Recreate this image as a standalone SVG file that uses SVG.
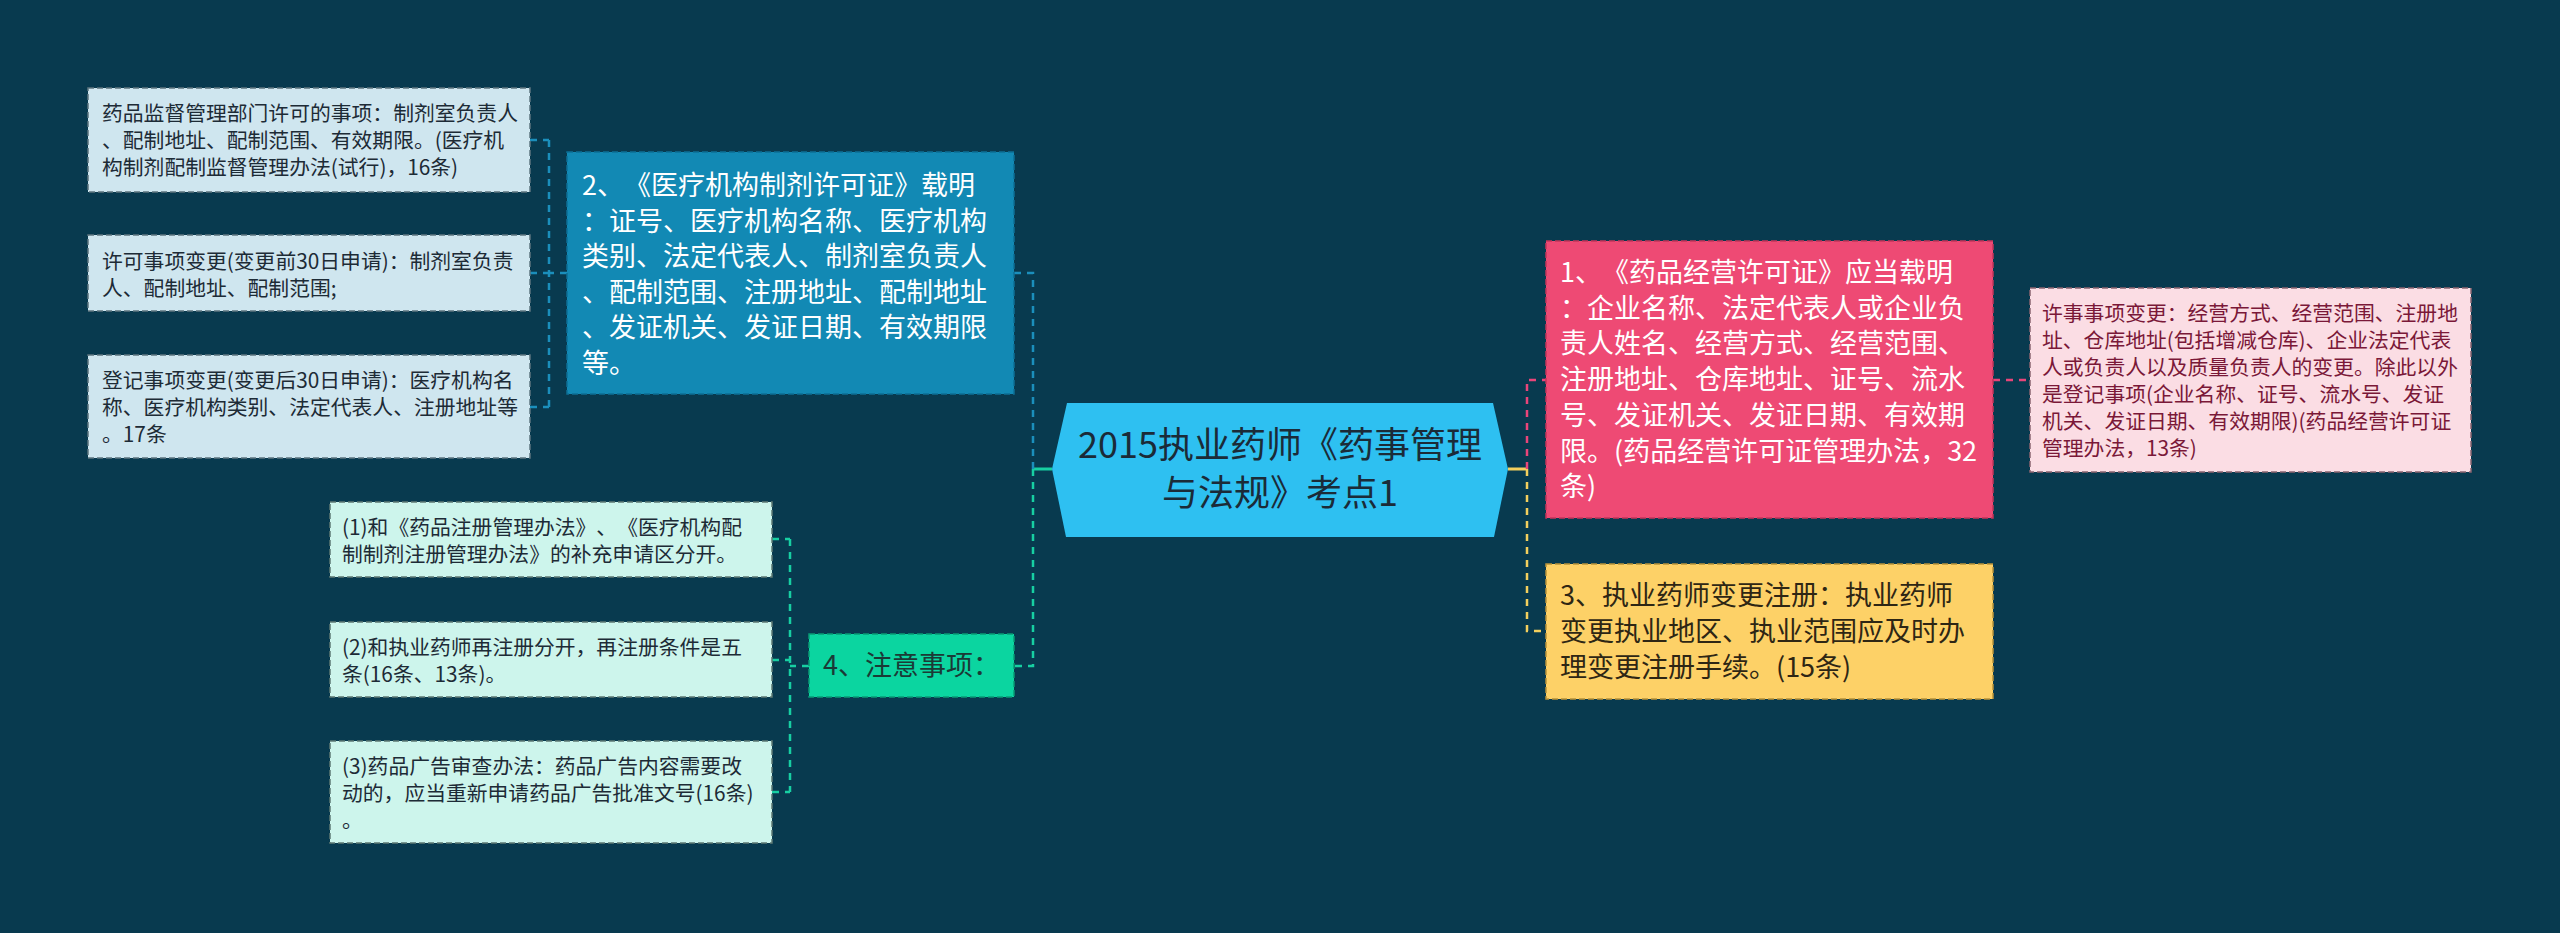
<svg xmlns="http://www.w3.org/2000/svg" width="2560" height="933" viewBox="0 0 2560 933">
<style>
text{font-family:"Noto Sans CJK SC","Noto Sans",sans-serif;font-feature-settings:"chws" 0,"halt" 0;text-spacing-trim:space-all}
.c{fill:none;stroke-width:2.5;stroke-dasharray:7 6}
.s{fill:none;stroke-width:3}
.bl{stroke:#1b8fbc}
.gr{stroke:#17cfa2}
.pk{stroke:#e9457a}
.yl{stroke:#f3cf5d}
.box{stroke-width:1.5;stroke-dasharray:6 3}
.sm{font-size:20.8px;fill:#1d2b36}
.md{font-size:27px}
</style>
<rect x="0" y="0" width="2560" height="933" fill="#083a4f"/>
<g id="connectors">
<path class="s gr" d="M1052 469H1033"/>
<path class="s yl" d="M1508 469H1527"/>
<path class="c bl" d="M1033 469V273H1014"/>
<path class="c gr" d="M1033 469V666H1014"/>
<path class="c pk" d="M1527 469V380H1546"/>
<path class="c yl" d="M1527 469V631H1546"/>
<path class="c pk" d="M1993 380H2030"/>
<path class="c bl" d="M567 273H549M549 140V407M530 140H549M530 273H549M530 407H549"/>
<path class="c gr" d="M809 666H790M790 539V792M772 539H790M772 660H790M772 792H790"/>
</g>
<g id="center">
<polygon points="1052,469 1067,403 1493,403 1508,469 1494,537 1066,537" fill="#2ec0f1"/>
<text x="1280" y="458" font-size="36" fill="#1b2b38" text-anchor="middle">2015执业药师《药事管理</text>
<text x="1280" y="506" font-size="36" fill="#1b2b38" text-anchor="middle">与法规》考点1</text>
</g>
<g id="node2">
<rect x="567" y="152" width="447" height="242" fill="#1289b4" class="box" stroke="#0c6f95"/>
<g class="md" fill="#ffffff">
<text x="582" y="195">2、《医疗机构制剂许可证》载明</text>
<text x="582" y="230.5">：证号、医疗机构名称、医疗机构</text>
<text x="582" y="266">类别、法定代表人、制剂室负责人</text>
<text x="582" y="301.5">、配制范围、注册地址、配制地址</text>
<text x="582" y="337">、发证机关、发证日期、有效期限</text>
<text x="582" y="372.5">等。</text>
</g>
</g>
<g id="n2a">
<rect x="88" y="88" width="442" height="104" fill="#cfe6ef" class="box" stroke="#5e7580"/>
<text class="sm" x="102" y="121">药品监督管理部门许可的事项：制剂室负责人</text>
<text class="sm" x="102" y="148">、配制地址、配制范围、有效期限。(医疗机</text>
<text class="sm" x="102" y="175">构制剂配制监督管理办法(试行)，16条)</text>
</g>
<g id="n2b">
<rect x="88" y="235" width="442" height="76" fill="#cfe6ef" class="box" stroke="#5e7580"/>
<text class="sm" x="102" y="269">许可事项变更(变更前30日申请)：制剂室负责</text>
<text class="sm" x="102" y="296">人、配制地址、配制范围;</text>
</g>
<g id="n2c">
<rect x="88" y="355" width="442" height="103" fill="#cfe6ef" class="box" stroke="#5e7580"/>
<text class="sm" x="102" y="388">登记事项变更(变更后30日申请)：医疗机构名</text>
<text class="sm" x="102" y="415">称、医疗机构类别、法定代表人、注册地址等</text>
<text class="sm" x="102" y="442">。17条</text>
</g>
<g id="node4">
<rect x="809" y="634" width="205" height="63" fill="#0bd5a0" class="box" stroke="#089a75"/>
<text class="md" x="823" y="675" fill="#1b3a36">4、注意事项：</text>
</g>
<g id="n4a">
<rect x="330" y="502" width="442" height="75" fill="#cdf5ec" class="box" stroke="#5e7a74"/>
<text class="sm" x="342" y="535">(1)和《药品注册管理办法》、《医疗机构配</text>
<text class="sm" x="342" y="562">制制剂注册管理办法》的补充申请区分开。</text>
</g>
<g id="n4b">
<rect x="330" y="622" width="442" height="75" fill="#cdf5ec" class="box" stroke="#5e7a74"/>
<text class="sm" x="342" y="655">(2)和执业药师再注册分开，再注册条件是五</text>
<text class="sm" x="342" y="682">条(16条、13条)。</text>
</g>
<g id="n4c">
<rect x="330" y="741" width="442" height="102" fill="#cdf5ec" class="box" stroke="#5e7a74"/>
<text class="sm" x="342" y="774">(3)药品广告审查办法：药品广告内容需要改</text>
<text class="sm" x="342" y="801">动的，应当重新申请药品广告批准文号(16条)</text>
<text class="sm" x="342" y="828">。</text>
</g>
<g id="node1">
<rect x="1546" y="241" width="447" height="277" fill="#ee4a74" class="box" stroke="#c4345a"/>
<g class="md" fill="#ffffff">
<text x="1560" y="282">1、《药品经营许可证》应当载明</text>
<text x="1560" y="317.7">：企业名称、法定代表人或企业负</text>
<text x="1560" y="353.4">责人姓名、经营方式、经营范围、</text>
<text x="1560" y="389.1">注册地址、仓库地址、证号、流水</text>
<text x="1560" y="424.8">号、发证机关、发证日期、有效期</text>
<text x="1560" y="460.5">限。(药品经营许可证管理办法，32</text>
<text x="1560" y="496.2">条)</text>
</g>
</g>
<g id="n1a">
<rect x="2030" y="288" width="441" height="184" fill="#fbdde4" class="box" stroke="#8a6470"/>
<g font-size="20.8" fill="#7a1838">
<text x="2042" y="321">许事事项变更：经营方式、经营范围、注册地</text>
<text x="2042" y="348">址、仓库地址(包括增减仓库)、企业法定代表</text>
<text x="2042" y="375">人或负责人以及质量负责人的变更。除此以外</text>
<text x="2042" y="402">是登记事项(企业名称、证号、流水号、发证</text>
<text x="2042" y="429">机关、发证日期、有效期限)(药品经营许可证</text>
<text x="2042" y="456">管理办法，13条)</text>
</g>
</g>
<g id="node3">
<rect x="1546" y="564" width="447" height="135" fill="#fdd167" class="box" stroke="#b8923a"/>
<g class="md" fill="#2e2614">
<text x="1560" y="605">3、执业药师变更注册：执业药师</text>
<text x="1560" y="641">变更执业地区、执业范围应及时办</text>
<text x="1560" y="677">理变更注册手续。(15条)</text>
</g>
</g>
</svg>
